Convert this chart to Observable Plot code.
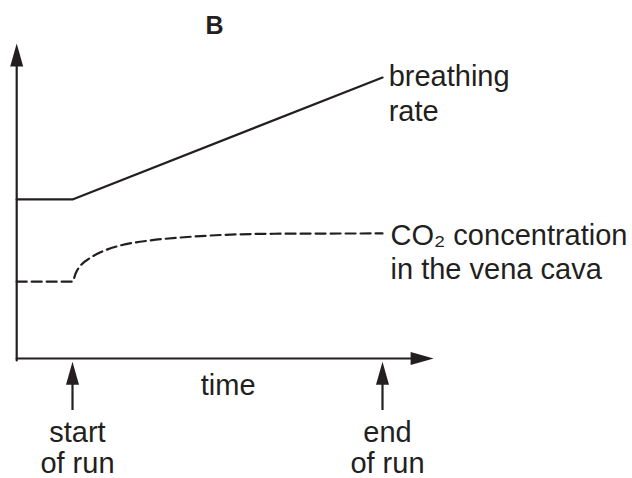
<!DOCTYPE html>
<html>
<head>
<meta charset="utf-8">
<script src="https://cdn.jsdelivr.net/npm/d3@7"></script>
<script src="https://cdn.jsdelivr.net/npm/@observablehq/plot@0.6"></script>
<style>
  html, body { margin: 0; padding: 0; background: #fff; }
  svg { display: block; }
</style>
</head>
<body>
<div id="chart"></div>
<script>
// Data (arbitrary units: time 0 = start of run, 10 = end of run)
const breathTime = [-1.8, 0, 10];
const breathRate = [5.05, 5.05, 8.92];
const co2Time = [-1.8, 0, 0.1, 0.26, 0.55, 0.9, 1.55, 2.52, 3.48, 4.77, 6.5, 10];
const co2Conc  = [2.44, 2.44, 2.7, 2.95, 3.18, 3.37, 3.59, 3.75, 3.84, 3.92, 3.96, 3.97];
const markerLabels = ["start\nof run", "end\nof run"];
const markerTimes = [0, 10];

const ink = "#231f20";
const font = "Liberation Sans, Arial, Helvetica, sans-serif";

const breath = breathTime.map((t, i) => ({t, v: breathRate[i]}));
const co2 = co2Time.map((t, i) => ({t, v: co2Conc[i]}));
const markers = markerTimes.map((t, i) => ({t, label: markerLabels[i]}));

// filled, narrow arrowhead symbol (tip at origin, pointing up)
const head = {
  draw(ctx) {
    ctx.moveTo(0, 0);
    ctx.lineTo(6.5, 23);
    ctx.lineTo(-6.5, 23);
    ctx.closePath();
  }
};

const xMin = -1.8, xTip = 11.65, yTip = 10;

const chart = Plot.plot({
  width: 632,
  height: 478,
  margin: 0,
  style: {fontFamily: font, color: ink, background: "#fff"},
  x: {domain: [0, 10], range: [72, 382], axis: null},
  y: {domain: [0, 10], range: [358, 43], axis: null},
  marks: [
    // axes
    Plot.line([{t: xMin, v: -0.06}, {t: xMin, v: 9.4}], {x: "t", y: "v", stroke: ink, strokeWidth: 2.2}),
    Plot.line([{t: xMin, v: 0}, {t: 11, v: 0}], {x: "t", y: "v", stroke: ink, strokeWidth: 2.2}),
    Plot.dot([{t: xMin, v: yTip}], {x: "t", y: "v", symbol: head, fill: ink, stroke: "none"}),
    Plot.dot([{t: xTip, v: 0}], {x: "t", y: "v", symbol: head, fill: ink, stroke: "none", rotate: 90}),
    // series
    Plot.line(breath, {x: "t", y: "v", stroke: ink, strokeWidth: 2.2}),
    Plot.line(co2, {x: "t", y: "v", stroke: ink, strokeWidth: 2.2, strokeDasharray: "10,5", curve: "monotone-x"}),
    // start/end markers
    Plot.ruleX(markers, {x: "t", y1: -1.65, y2: -0.5, stroke: ink, strokeWidth: 2.2}),
    Plot.dot(markers, {x: "t", y: -0.1, symbol: head, fill: ink, stroke: "none"}),
    Plot.text(markers, {x: d => d.t + 0.16, y: -2.82, text: "label", fontSize: 29, lineHeight: 1.07, fill: ink, textAnchor: "middle"}),
    // labels
    Plot.text(["time"], {x: 5.02, y: -0.86, text: d => d, fontSize: 29, fill: ink}),
    Plot.text(["B"], {x: 4.58, y: 10.57, text: d => d, fontSize: 25, fontWeight: "bold", fill: ink}),
    Plot.text(["breathing\nrate"], {x: 10.2, y: 8.46, text: d => d, fontSize: 29, lineHeight: 1.21, textAnchor: "start", fill: ink}),
    Plot.text(["CO\u2082 concentration\nin the vena cava"], {x: 10.26, y: 3.40, text: d => d, fontSize: 29, lineHeight: 1.17, textAnchor: "start", fill: ink})
  ]
});
document.getElementById("chart").appendChild(chart);
</script>
</body>
</html>
